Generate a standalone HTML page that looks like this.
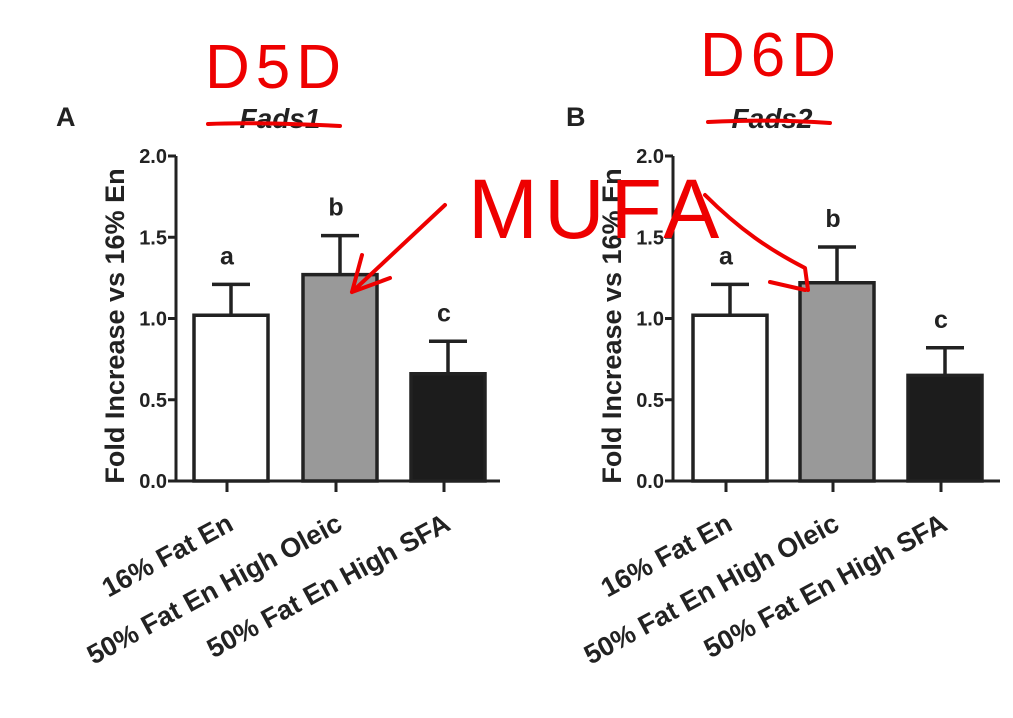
<!DOCTYPE html>
<html><head><meta charset="utf-8"><style>
body{margin:0;background:#fff;width:1013px;height:713px;overflow:hidden}
svg text{font-family:"Liberation Sans",Arial,sans-serif;font-weight:bold;fill:#222}
</style></head><body>
<svg id="chart" width="1013" height="713" viewBox="0 0 1013 713" xmlns="http://www.w3.org/2000/svg"></svg>
<script>
const categories = ["16% Fat En", "50% Fat En High Oleic", "50% Fat En High SFA"];
const valuesA = [1.02, 1.27, 0.66];
const errA = [1.21, 1.51, 0.86];
const valuesB = [1.02, 1.22, 0.65];
const errB = [1.21, 1.44, 0.82];
const letters = ["a", "b", "c"];
const ticks = [0, 0.5, 1.0, 1.5, 2.0];
const tickLabels = ["0.0", "0.5", "1.0", "1.5", "2.0"];
const fills = ["#ffffff", "#999999", "#1c1c1c"];

const NS = "http://www.w3.org/2000/svg";
const svg = document.getElementById("chart");
function mk(tag, attrs, parent) {
  const e = document.createElementNS(NS, tag);
  for (const k in attrs) e.setAttribute(k, attrs[k]);
  (parent || svg).appendChild(e);
  return e;
}
const y0 = 481, yTop = 156;
function yScale(v) { return y0 - (v / 2) * (y0 - yTop); }

function panel(id, axisX, axisEnd, barLefts, vals, errs, letter, title, titleX) {
  const g = mk("g", {});
  
  
  const pl = mk("text", { x: letter === "A" ? 56 : 566, y: 126, "font-size": 27 }, g);
  pl.textContent = letter;
  
  
  const t = mk("text", { x: titleX, y: 128, "font-size": 28, "font-style": "italic", "text-anchor": "middle" }, g);
  t.textContent = title;
  
  
  const yt = mk("text", { transform: `translate(${axisX - 52},${326}) rotate(-90)`, "font-size": 27, "text-anchor": "middle" }, g);
  yt.textContent = "Fold Increase vs 16% En";
  
  
  const ax = mk("path", { d: `M${axisX},${yTop} V${y0} H${axisEnd}`, stroke: "#222", "stroke-width": 3, fill: "none" }, g);
  
  
  ticks.forEach((v, i) => {
    const y = yScale(v);
    mk("line", { x1: axisX - 8, x2: axisX, y1: y, y2: y, stroke: "#222", "stroke-width": 3 }, g);
    const tl = mk("text", { x: axisX - 9, y: y + 7, "font-size": 20, "text-anchor": "end" }, g);
    tl.textContent = tickLabels[i];
    
    
  });
  const bw = 74;
  vals.forEach((v, i) => {
    const x = barLefts[i], cx = x + bw / 2;
    const ey = yScale(errs[i]), by = yScale(v);
    const eb = mk("path", { d: `M${cx},${by} V${ey} M${cx - 19},${ey} H${cx + 19}`, stroke: "#222", "stroke-width": 3.5, fill: "none" }, g);
    
    
    const r = mk("rect", { x: x, y: by, width: bw, height: y0 - by, fill: fills[i], stroke: "#222", "stroke-width": 3.5 }, g);
    
    
    const lt = mk("text", { x: cx - 4, y: ey - 20, "font-size": 25, "text-anchor": "middle" }, g);
    lt.textContent = letters[i];
    
    
    mk("line", { x1: cx - 4, x2: cx - 4, y1: y0, y2: y0 + 11, stroke: "#222", "stroke-width": 3 }, g);
    const xl = mk("text", { transform: `translate(${cx + 4},${y0 + 48}) rotate(-28.5)`, "font-size": 27, "text-anchor": "end" }, g);
    xl.textContent = categories[i];
    
    
  });
}
panel("a", 176, 500, [194, 303, 411], valuesA, errA, "A", "Fads1", 280);
panel("b", 673, 1000, [693, 800, 908], valuesB, errB, "B", "Fads2", 772);

// red annotations
const red = { stroke: "#e00", "stroke-width": 4, fill: "none", "stroke-linecap": "round", "stroke-linejoin": "round" };
function ann(d, name) { const p = mk("path", Object.assign({ d: d }, red));   }
ann("M208,124 C250,122 300,124 340,126", "underline-fads1");
ann("M708,122 C750,120 790,120 830,123", "underline-fads2");
ann("M445,205 L352,292 M352,292 L362,255 M352,292 L390,278", "arrow-a");
ann("M705,195 C740,230 770,250 805,268 L808,290 M805,290 L770,282", "arrow-b");
function redText(x, y, s, size, name) {
  const t = mk("text", { x: x, y: y, "font-size": size, style: "font-weight:normal;fill:#e00", "letter-spacing": 6 });
  t.textContent = s;
  
  
}
redText(205, 88, "D5D", 62, "annotation-d5d");
redText(700, 76, "D6D", 62, "annotation-d6d");
redText(468, 238, "MUFA", 84, "annotation-mufa");
</script>
</body></html>
